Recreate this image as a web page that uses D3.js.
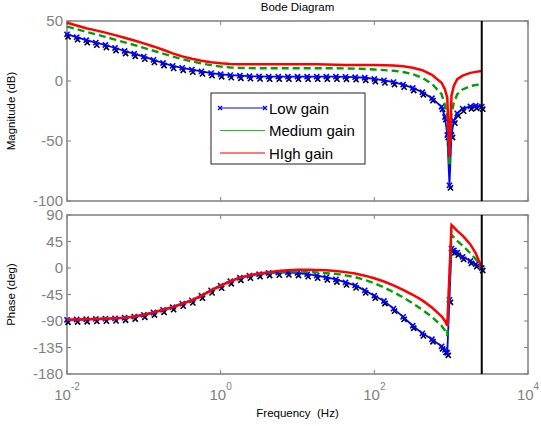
<!DOCTYPE html>
<html>
<head>
<meta charset="utf-8">
<script src="https://cdn.jsdelivr.net/npm/d3@7"></script>
<style>
    body { margin: 0; background: #fff; }
    svg { font-family: "Liberation Sans", Arial, sans-serif; }
    .frame { fill: none; stroke: #7f7f7f; stroke-width: 1.5; }
    .tick { stroke: #7f7f7f; stroke-width: 1; }
    .tick-label { fill: #7f7f7f; font-size: 15px; }
    .axis-title { fill: #000; font-size: 11.5px; }
    .legend-box { fill: #fff; stroke: #222; stroke-width: 1; }
    .legend-text { fill: #000; font-size: 15px; }
</style>
</head>
<body>
<svg id="chart" width="541" height="426"></svg>
<script>

// Data

const freqHz = [0.01, 0.01334, 0.01778, 0.02371, 0.03162, 0.04217, 0.05623, 0.07499,
    0.1, 0.1334, 0.1778, 0.2371, 0.3162, 0.4217, 0.5623, 0.7499,
    1, 1.334, 1.778, 2.371, 3.162, 4.217, 5.623, 7.499,
    10, 13.34, 17.78, 23.71, 31.62, 42.17, 56.23, 74.99,
    100, 133.4, 177.8, 237.1, 316.2, 421.7, 562.3, 749.9,
    830, 890, 950, 1010, 1085, 1200, 1410, 1780, 2090, 2500];

const magLow = [38.9, 36.5, 34.0, 32.0, 30.0, 27.5, 25.0, 22.7, 20.3, 17.6,
    15.0, 12.6, 11.0, 9.5, 8.0, 6.6, 5.6, 4.9, 4.4, 4.0,
    3.8, 3.6, 3.6, 3.6, 3.6, 3.6, 3.6, 3.6, 3.6, 3.5,
    3.2, 2.7, 1.7, 0.5, -0.9, -3.0, -5.8, -9.4, -14.3, -21.5,
    -30, -45, -87, -45, -33, -27, -23, -21.2, -20.6, -21.4];

const magMed = [45.3, 43.2, 41.0, 38.9, 36.8, 34.5, 32.2, 30.0, 27.6, 25.2,
    22.8, 20.4, 18.2, 16.3, 14.6, 13.2, 12.0, 11.3, 10.9, 10.7,
    10.6, 10.6, 10.6, 10.6, 10.6, 10.6, 10.6, 10.6, 10.6, 10.5,
    10.3, 10.0, 9.6, 9.1, 8.5, 7.5, 5.7, 2.7, -2.3, -11,
    -20, -30, -71, -28, -18, -11, -7, -4.2, -3.3, -2.8];

const magHigh = [48.6, 46.2, 44.0, 42.2, 40.3, 38.2, 36.0, 33.8, 31.4, 28.8,
    26.0, 23.0, 20.5, 18.5, 16.9, 15.6, 14.7, 14.2, 14.0, 13.9,
    13.9, 13.9, 13.9, 13.9, 13.9, 13.9, 13.9, 13.8, 13.6, 13.4,
    13.3, 13.3, 13.3, 13.2, 12.9, 12.2, 11.0, 9.0, 5.2, -1.5,
    -7, -14, -63, -12, -4, 1.5, 4.5, 6.8, 7.6, 8.3];

const phaseLow = [-88, -87.5, -87, -86.5, -86, -85.5, -84.5, -82.5, -79.5, -75.5,
    -71, -66.5, -60.5, -55, -47, -38, -30, -22.5, -16.5, -13,
    -10.5, -8.5, -7.8, -7.5, -8.5, -10.5, -13, -16, -19.5, -24.5,
    -29.5, -38, -47, -56, -69, -83, -98, -111, -121, -133,
    -139, -144, -54, 33, 30, 26, 19, 12, 6.5, 0];

const phaseMed = [-88, -87.5, -87, -86.5, -86, -85.5, -84.5, -82.5, -79.5, -75.5,
    -71, -66.5, -60.5, -55, -47, -38, -30, -22.5, -16.5, -12.8,
    -10, -8, -6.8, -6, -6, -6.5, -7.5, -8.8, -10, -12.5,
    -15.5, -20, -26, -33, -41, -50, -60, -71, -83, -98,
    -106, -115, -20, 56, 52, 46, 38, 25, 15, 0];

const phaseHigh = [-88, -87.5, -87, -86.5, -86, -85.5, -84.5, -82.5, -79.5, -75.5,
    -71, -66.5, -60.5, -55, -47, -38, -30, -22.5, -16.3, -12.3,
    -9.5, -7, -5.2, -3.8, -3, -2.8, -3.2, -4, -5.2, -7,
    -9.5, -13, -17.5, -23, -29.5, -37, -45.5, -55, -67, -82,
    -90, -98, -10, 73, 69, 63, 55, 40, 25, 0];

const magTicks = [50, 0, -50, -100];
const phaseTicks = [90, 45, 0, -45, -90, -135, -180];
const freqTicks = [0.01, 1, 100, 10000];
const freqTickExp = ["-2", "0", "2", "4"];
const nyquistHz = 2500;
const legendLabels = ["Low gain", "Medium gain", "HIgh gain"];

// Chart ////////////////////////////////////

const svg = d3.select("#chart");

const x = d3.scaleLog()
    .domain([0.01, 10000])
    .range([67, 528]);

const yMag = d3.scaleLinear()
    .domain([-100, 50])
    .range([201, 21]);

const yPhase = d3.scaleLinear()
    .domain([-180, 90])
    .range([374, 215]);

const xMark = "M-2.6,-2.6L2.6,2.6M-2.6,2.6L2.6,-2.6";

// Title

svg.append("text")
    .attr("class", "axis-title")
    .attr("x", 297.5)
    .attr("y", 11)
    .attr("text-anchor", "middle")
    .text("Bode Diagram");

drawPanel(yMag, magTicks, [magLow, magMed, magHigh], "Magnitude (dB)");
drawPanel(yPhase, phaseTicks, [phaseLow, phaseMed, phaseHigh], "Phase (deg)");

// Frequency ticks (bottom panel only)

freqTicks.forEach((f, i) => {
    const t = svg.append("text")
        .attr("class", "tick-label")
        .attr("x", x(f))
        .attr("y", 400)
        .attr("text-anchor", "middle");
    t.append("tspan").text("10");
    t.append("tspan")
        .attr("dy", -10)
        .style("font-size", "10px")
        .text(freqTickExp[i]);
});

svg.append("text")
    .attr("class", "axis-title")
    .attr("x", 297.5)
    .attr("y", 417)
    .attr("text-anchor", "middle")
    .attr("xml:space", "preserve")
    .text("Frequency  (Hz)");

drawLegend();

function drawPanel(y, ticks, series, label) {

    const [x0, x1] = x.range();
    const [yb, yt] = y.range();
    const g = svg.append("g");

    // Frame and ticks

    g.append("rect")
        .attr("class", "frame")
        .attr("x", x0).attr("y", yt)
        .attr("width", x1 - x0).attr("height", yb - yt);

    ticks.forEach(v => {
        g.append("line").attr("class", "tick")
            .attr("x1", x0).attr("x2", x0 + 4)
            .attr("y1", y(v)).attr("y2", y(v));
        g.append("line").attr("class", "tick")
            .attr("x1", x1 - 4).attr("x2", x1)
            .attr("y1", y(v)).attr("y2", y(v));
        g.append("text")
            .attr("class", "tick-label")
            .attr("x", x0 - 4)
            .attr("y", y(v) + 5)
            .attr("text-anchor", "end")
            .text(v);
    });

    freqTicks.forEach(f => {
        g.append("line").attr("class", "tick")
            .attr("x1", x(f)).attr("x2", x(f))
            .attr("y1", yt).attr("y2", yt + 4);
        g.append("line").attr("class", "tick")
            .attr("x1", x(f)).attr("x2", x(f))
            .attr("y1", yb - 4).attr("y2", yb);
    });

    g.append("text")
        .attr("class", "axis-title")
        .attr("transform", `translate(15, ${ (yt + yb) / 2 }) rotate(-90)`)
        .attr("text-anchor", "middle")
        .text(label);

    // Curves

    const line = d3.line()
        .x((d, i) => x(freqHz[i]))
        .y(d => y(d));

    const [low, med, high] = series;

    // black marker shadow behind the low gain trace
    g.append("g")
        .attr("transform", "translate(1,2.5)")
        .selectAll("path")
        .data(low)
        .join("path")
        .attr("transform", (d, i) => `translate(${ x(freqHz[i]) },${ y(d) })`)
        .attr("d", xMark)
        .attr("stroke", "#000")
        .attr("stroke-width", 1.6);

    g.append("path")
        .attr("d", line(low))
        .attr("fill", "none")
        .attr("stroke", "#0000ff")
        .attr("stroke-width", 1.8);

    g.append("g")
        .selectAll("path")
        .data(low)
        .join("path")
        .attr("transform", (d, i) => `translate(${ x(freqHz[i]) },${ y(d) })`)
        .attr("d", xMark)
        .attr("stroke", "#0000ff")
        .attr("stroke-width", 1.6);

    g.append("path")
        .attr("d", line(med))
        .attr("fill", "none")
        .attr("stroke", "#00a000")
        .attr("stroke-width", 2.4)
        .attr("stroke-dasharray", "7,4");

    g.append("path")
        .attr("d", line(high))
        .attr("fill", "none")
        .attr("stroke", "#ff0000")
        .attr("stroke-width", 2.5);

    // Nyquist line

    g.append("line")
        .attr("x1", x(nyquistHz)).attr("x2", x(nyquistHz))
        .attr("y1", yt).attr("y2", yb)
        .attr("stroke", "#000")
        .attr("stroke-width", 2);
}

function drawLegend() {

    const lg = svg.append("g")
        .attr("transform", "translate(211,93)");

    lg.append("rect")
        .attr("class", "legend-box")
        .attr("width", 154)
        .attr("height", 71);

    const styles = [
        { color: "#0000ff", width: 1.2 },
        { color: "#22bb22", width: 1.2 },
        { color: "#ff5050", width: 1.5 }
    ];

    legendLabels.forEach((name, i) => {
        const yy = 15 + i * 22.5;
        lg.append("line")
            .attr("x1", 9).attr("x2", 54)
            .attr("y1", yy).attr("y2", yy)
            .attr("stroke", styles[i].color)
            .attr("stroke-width", styles[i].width);
        if (i === 0) {
            [9, 54].forEach(px => {
                lg.append("path")
                    .attr("transform", `translate(${ px },${ yy })`)
                    .attr("d", "M-2,-2L2,2M-2,2L2,-2")
                    .attr("stroke", "#0000ff")
                    .attr("stroke-width", 1.2);
            });
        }
        lg.append("text")
            .attr("class", "legend-text")
            .attr("x", 58)
            .attr("y", yy + 5.5)
            .text(name);
    });
}

</script>
</body>
</html>
